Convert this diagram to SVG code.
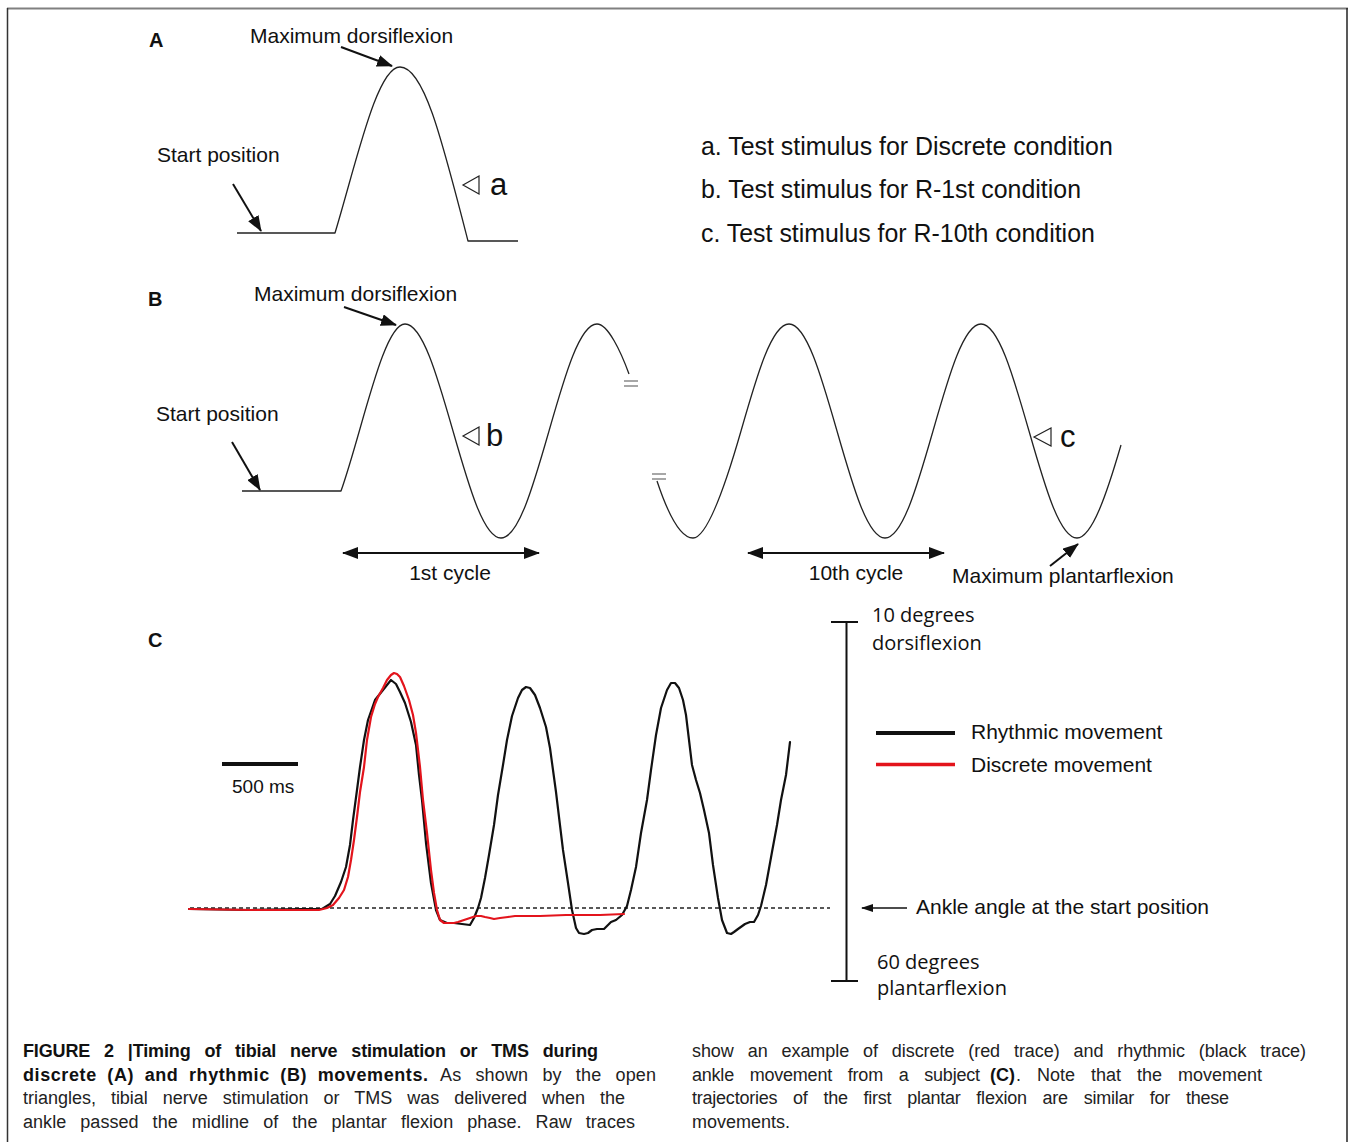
<svg xmlns="http://www.w3.org/2000/svg" width="1350" height="1142" viewBox="0 0 1350 1142">
<style>
.lbl{font-family:"Liberation Sans",Arial,sans-serif;font-size:21px;fill:#111}
.big{font-family:"Liberation Sans",Arial,sans-serif;font-size:24.9px;fill:#111}
.let{font-family:"Liberation Sans",Arial,sans-serif;font-size:31px;fill:#111}
.pan{font-family:"Liberation Sans",Arial,sans-serif;font-size:20px;font-weight:bold;fill:#111}
.os{font-family:"Open Sans","DejaVu Sans",sans-serif;font-size:20px;fill:#111}
.cap{font-family:"Liberation Sans",Arial,sans-serif;font-size:18px;fill:#222}
.capb{font-family:"Liberation Sans",Arial,sans-serif;font-size:18px;font-weight:bold;fill:#111}
.wave{fill:none;stroke:#222;stroke-width:1.3;stroke-linejoin:round}
.arr{fill:none;stroke:#111;stroke-width:2}
.tri{fill:none;stroke:#222;stroke-width:1.2;stroke-linejoin:miter}
.brk{stroke:#777;stroke-width:1.3}
.trace{fill:none;stroke-width:2.2;stroke-linejoin:round;stroke-linecap:round}
</style>
<defs>
<marker id="ah" viewBox="0 0 16 12" refX="15" refY="6" markerWidth="16" markerHeight="12" markerUnits="userSpaceOnUse" orient="auto-start-reverse">
<path d="M0,0 L16,6 L0,12 Z" fill="#111"/>
</marker>
<marker id="ahs" viewBox="0 0 12 8" refX="11" refY="4" markerWidth="12" markerHeight="8" markerUnits="userSpaceOnUse" orient="auto">
<path d="M0,0 L12,4 L0,8 Z" fill="#111"/>
</marker>
</defs>

<g id="frame">
<line x1="7" y1="8.5" x2="1348" y2="8.5" stroke="#808080" stroke-width="2"/>
<line x1="7.5" y1="8" x2="7.5" y2="1142" stroke="#333" stroke-width="1.5"/>
<line x1="1347" y1="8" x2="1347" y2="1142" stroke="#222" stroke-width="1.5"/>
</g>

<g id="panelA">
<text class="pan" x="149" y="47">A</text>
<text class="lbl" x="250" y="43">Maximum dorsiflexion</text>
<text class="lbl" x="157" y="162">Start position</text>
<path class="wave" d="M237,233 L335,233 C357,160 377,67 400,67 C424,67 442,140 468,241 L518,241"/>
<polygon class="tri" points="463,185 479,176 479,194"/>
<text class="let" x="490" y="195">a</text>
</g>

<g id="legendA">
<text class="big" x="701" y="155">a. Test stimulus for Discrete condition</text>
<text class="big" x="701" y="198">b. Test stimulus for R-1st condition</text>
<text class="big" x="701" y="242">c. Test stimulus for R-10th condition</text>
</g>

<g id="panelB">
<text class="pan" x="148" y="306">B</text>
<text class="lbl" x="254" y="301">Maximum dorsiflexion</text>
<text class="lbl" x="156" y="421">Start position</text>
<path class="wave" d="M242,491 L341,491 C362,432 383,324 405,324 C422.4,324 437.3,376.2 453,431 S483.6,538 501,538 S533.3,485.8 549,431 S579.6,324 597,324 C608,324 621,352 629,374"/>
<line class="brk" x1="624" y1="381" x2="638" y2="381"/>
<line class="brk" x1="624" y1="386" x2="638" y2="386"/>
<line class="brk" x1="652" y1="474" x2="666" y2="474"/>
<line class="brk" x1="652" y1="479" x2="666" y2="479"/>
<path class="wave" d="M657,481 C667,511 679,538 693,538 S725.3,485.8 741,431 S771.6,324 789,324 S821.3,376.2 837,431 S867.6,538 885,538 S917.3,485.8 933,431 S963.6,324 981,324 S1013.3,376.2 1029,431 S1059.6,538 1077,538 C1092,538 1107,493 1121,445"/>
<polygon class="tri" points="463,436 479,427 479,445"/>
<text class="let" x="486" y="446">b</text>
<polygon class="tri" points="1034,437 1051,428 1051,446"/>
<text class="let" x="1060" y="447">c</text>
<text class="lbl" x="450" y="580" text-anchor="middle">1st cycle</text>
<text class="lbl" x="856" y="580" text-anchor="middle">10th cycle</text>
<text class="lbl" x="952" y="583">Maximum plantarflexion</text>
</g>

<g id="panelC">
<text class="pan" x="148" y="647">C</text>
<line x1="222" y1="764" x2="298" y2="764" stroke="#111" stroke-width="4"/>
<text class="lbl" x="232" y="793" style="font-size:19px">500 ms</text>
<line x1="190" y1="908" x2="830" y2="908" stroke="#222" stroke-width="1.6" stroke-dasharray="4 3"/>
<polyline class="trace" stroke="#111" points="189,909 250,910 300,909 322,909 330,904 335,896 341,882 346,867 350,845 353,820 357,790 360,767 364,740 368,720 375,700 383,690 391,680 396,684 400,692 405,703 411,722 416,745 419,775 422,800 426,843 431,883 436,910 440,920 447,923 454,923 462,924 470,925 474,918 478,908 481,898 485,878 489,855 494,825 498,795 503,765 507,740 512,716 518,698 522,690 526,687 530,688 535,695 540,708 546,727 550,748 553,770 556,792 559,817 563,850 568,883 572,910 576,928 579,933 584,934 588,933 592,930 597,929 604,929 608,925 611,922 616,920 622,915 627,906 631,890 636,867 641,833 647,800 651,770 656,735 661,708 667,690 671,683 675,683 679,688 683,700 686,715 689,740 692,765 696,780 700,793 704,810 709,833 713,865 718,898 722,920 727,933 731,934 734,932 738,929 745,924 750,922 754,922 758,915 761,906 766,885 772,852 777,825 781,800 786,775 790,742"/>
<polyline class="trace" stroke="#e3141c" points="189,909 250,910 300,910 319,910 327,908 333,905 339,898 344,890 348,877 351,860 354,840 357,817 360,792 364,767 367,740 371,717 375,704 378,697 383,688 387,680 391,675 394,673 397,674 400,677 404,686 409,700 413,715 416,733 418,750 420,767 423,800 427,833 431,870 434,893 437,910 440,920 444,923 449,923 454,923 458,922 464,920 470,918 476,916 481,916 485,917 490,918 494,919 500,918 508,917 515,916 521,916 540,916 566,915 600,915 624,914"/>
</g>

<g id="scale">
<line x1="846.5" y1="622" x2="846.5" y2="981" stroke="#111" stroke-width="2"/>
<line x1="831" y1="622" x2="858" y2="622" stroke="#111" stroke-width="2"/>
<line x1="831" y1="981" x2="858" y2="981" stroke="#111" stroke-width="2"/>
<text class="os" x="872" y="622">10 degrees</text>
<text class="os" x="872" y="650">dorsiflexion</text>
<text class="os" x="877" y="969">60 degrees</text>
<text class="os" x="877" y="995">plantarflexion</text>
<text class="lbl" x="916" y="914">Ankle angle at the start position</text>
</g>

<g id="legendC">
<line x1="876" y1="733" x2="955" y2="733" stroke="#111" stroke-width="4"/>
<text class="lbl" x="971" y="739">Rhythmic movement</text>
<line x1="876" y1="764.5" x2="955" y2="764.5" stroke="#e3141c" stroke-width="3.5"/>
<text class="lbl" x="971" y="772">Discrete movement</text>
</g>

<g id="connectors">
<line class="arr" x1="341" y1="47" x2="392" y2="66" marker-end="url(#ah)"/>
<line class="arr" x1="233" y1="184" x2="261" y2="231" marker-end="url(#ah)"/>
<line class="arr" x1="344" y1="307" x2="396" y2="325" marker-end="url(#ah)"/>
<line class="arr" x1="232" y1="442" x2="260" y2="490" marker-end="url(#ah)"/>
<line class="arr" x1="343" y1="553" x2="539" y2="553" marker-start="url(#ah)" marker-end="url(#ah)"/>
<line class="arr" x1="748" y1="553" x2="944" y2="553" marker-start="url(#ah)" marker-end="url(#ah)"/>
<line class="arr" x1="1050" y1="566" x2="1078" y2="544" marker-end="url(#ah)"/>
<line x1="907" y1="908" x2="862" y2="908" stroke="#111" stroke-width="1.5" marker-end="url(#ahs)"/>
</g>

<g id="caption">
<text class="capb" x="23" y="1057" word-spacing="9" textLength="575" lengthAdjust="spacing">FIGURE 2 |Timing of tibial nerve stimulation or TMS during</text>
<text class="capb" x="23" y="1081" word-spacing="5" textLength="405" lengthAdjust="spacing">discrete (A) and rhythmic (B) movements.</text>
<text class="cap" x="440" y="1081" word-spacing="9" textLength="216" lengthAdjust="spacing">As shown by the open</text>
<text class="cap" x="23" y="1104" word-spacing="10" textLength="602" lengthAdjust="spacing">triangles, tibial nerve stimulation or TMS was delivered when the</text>
<text class="cap" x="23" y="1128" word-spacing="9" textLength="612" lengthAdjust="spacing">ankle passed the midline of the plantar flexion phase. Raw traces</text>
<text class="cap" x="692" y="1057" word-spacing="9" textLength="614" lengthAdjust="spacing">show an example of discrete (red trace) and rhythmic (black trace)</text>
<text class="cap" x="692" y="1081" word-spacing="11" textLength="288" lengthAdjust="spacing">ankle movement from a subject</text>
<text class="capb" x="990" y="1081">(C)</text>
<text class="cap" x="1016" y="1081" word-spacing="11" textLength="246" lengthAdjust="spacing">. Note that the movement</text>
<text class="cap" x="692" y="1104" word-spacing="11" textLength="537" lengthAdjust="spacing">trajectories of the first plantar flexion are similar for these</text>
<text class="cap" x="692" y="1128">movements.</text>
</g>
</svg>
